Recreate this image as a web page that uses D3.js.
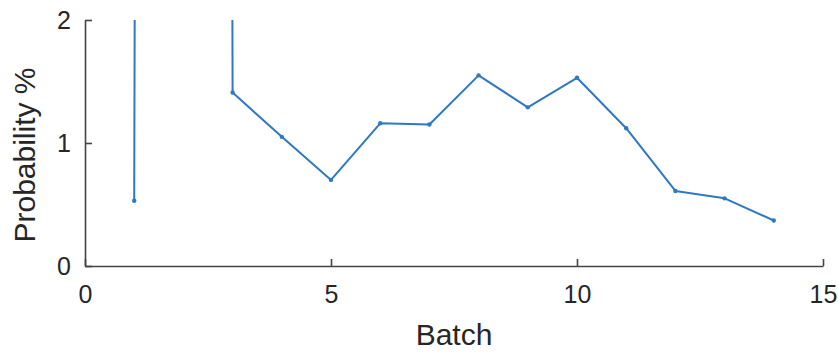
<!DOCTYPE html>
<html>
<head>
<meta charset="utf-8">
<script src="https://cdn.jsdelivr.net/npm/d3@7"></script>
<style>
  html, body { margin: 0; padding: 0; background: #fff; }
  svg { display: block; font-family: "Liberation Sans", Arial, sans-serif; }
</style>
</head>
<body>
<svg id="chart" width="838" height="353"></svg>
<script>
// Probability per batch; batch 2 is far off the top of the axis.
const batches = [1, 2, 3, 4, 5, 6, 7, 8, 9, 10, 11, 12, 13, 14];
const probability = [0.53, 150, 1.41, 1.05, 0.70, 1.16, 1.15, 1.55, 1.29, 1.53, 1.12, 0.61, 0.55, 0.37];
const xTicks = [0, 5, 10, 15];
const yTicks = [0, 1, 2];

const margin = { left: 85, right: 15, top: 20, bottom: 87 };
const W = 838, H = 353;
const svg = d3.select("#chart");

const x = d3.scaleLinear().domain([0, 15]).range([margin.left, W - margin.right]);
const y = d3.scaleLinear().domain([0, 2]).range([H - margin.bottom, margin.top]);

svg.append("defs").append("clipPath").attr("id", "plot-clip")
  .append("rect")
  .attr("x", x(0)).attr("y", y(2))
  .attr("width", x(15) - x(0)).attr("height", y(0) - y(2));

const axisColor = "#444";
const textColor = "#262626";
const fmt = d3.format("d");

// x axis with inward ticks
const gx = svg.append("g")
  .attr("transform", `translate(0,${y(0)})`)
  .call(d3.axisBottom(x).tickValues(xTicks).tickFormat(fmt).tickSize(-7).tickPadding(19).tickSizeOuter(0));
gx.select(".domain").attr("stroke", axisColor).attr("stroke-width", 1.6);
gx.selectAll(".tick line").attr("stroke", axisColor).attr("stroke-width", 1.6);
gx.selectAll(".tick text").attr("fill", textColor).attr("font-size", 25).attr("dy", "0.71em")
  .attr("font-family", "Liberation Sans, Arial, sans-serif");

// y axis with inward ticks
const gy = svg.append("g")
  .attr("transform", `translate(${x(0)},0)`)
  .call(d3.axisLeft(y).tickValues(yTicks).tickFormat(fmt).tickSize(-7).tickPadding(14).tickSizeOuter(0));
gy.select(".domain").attr("stroke", axisColor).attr("stroke-width", 1.6);
gy.selectAll(".tick line").attr("stroke", axisColor).attr("stroke-width", 1.6);
gy.selectAll(".tick text").attr("fill", textColor).attr("font-size", 25)
  .attr("font-family", "Liberation Sans, Arial, sans-serif");

// axis titles
svg.append("text")
  .attr("x", (x(0) + x(15)) / 2).attr("y", 345)
  .attr("text-anchor", "middle").attr("font-size", 30).attr("fill", textColor)
  .text("Batch");
svg.append("text")
  .attr("transform", `translate(35,155) rotate(-90)`)
  .attr("text-anchor", "middle").attr("font-size", 30).attr("fill", textColor)
  .text("Probability %");

// series
const data = batches.map((b, i) => ({ b, v: probability[i] }));
const lineColor = "#2f78c4";
const plot = svg.append("g").attr("clip-path", "url(#plot-clip)");
plot.append("path")
  .datum(data)
  .attr("fill", "none")
  .attr("stroke", lineColor)
  .attr("stroke-width", 2)
  .attr("stroke-linejoin", "round")
  .attr("d", d3.line().x(d => x(d.b)).y(d => y(d.v)));
plot.selectAll("circle")
  .data(data)
  .join("circle")
  .attr("cx", d => x(d.b)).attr("cy", d => y(d.v))
  .attr("r", 2.2).attr("fill", lineColor);
</script>
</body>
</html>
